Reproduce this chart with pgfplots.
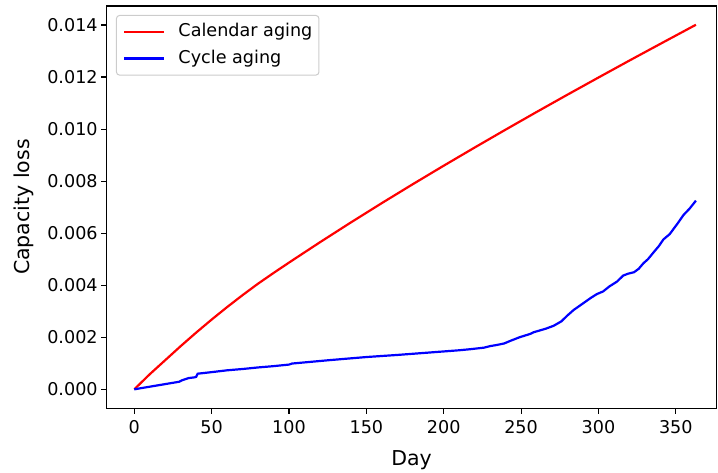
\documentclass[border=0pt]{standalone}
\usepackage{fontspec}
\setmainfont{DejaVu Sans}
\usepackage{pgfplots}
\pgfplotsset{compat=1.18}
\begin{document}
\begin{tikzpicture}
\begin{axis}[
  scale only axis,
  width=609.8pt, height=402.3pt,
  xmin=-17.84, xmax=376.3,
  ymin=-0.00073, ymax=0.01473,
  axis line style={line width=1.1pt},
  tick style={line width=1.1pt, black},
  tick align=outside,
  major tick length=5.5pt,
  xtick pos=bottom, ytick pos=left,
  xtick={0,50,100,150,200,250,300,350},
  ytick={0,0.002,0.004,0.006,0.008,0.010,0.012,0.014},
  scaled y ticks=false,
  yticklabel style={/pgf/number format/fixed, /pgf/number format/precision=3, /pgf/number format/fixed zerofill},
  xticklabel style={yshift=-3pt},
  /pgf/number format/assume math mode=true,
  ticklabel style={font=\fontsize{17.6}{20}\selectfont},
  label style={font=\fontsize{20.5}{24}\selectfont},
  xlabel={Day},
  xlabel style={yshift=-10pt},
  ylabel={Capacity loss},
  ylabel style={yshift=7pt},
  legend cell align=left,
  legend image code/.code={\draw[#1, line width=2.2pt] (0pt,0pt) -- (40pt,0pt); \path (53.3pt,0pt);},
  legend style={at={(0,1)}, anchor=north west, xshift=9.3pt, yshift=-9pt,
    draw=black!20, line width=1pt, rounded corners=3pt, fill=white, fill opacity=0.8, text opacity=1,
    font=\fontsize{17.6}{20}\selectfont, inner xsep=6.5pt, inner ysep=8pt, row sep=9.6pt,
    nodes={inner sep=0pt, text height=13pt, text depth=4pt}},
]
\addplot[red, line width=2.2pt] coordinates {
(0,0) (10,0.00058) (20,0.00112) (30,0.00166) (40,0.00218)
(50,0.00268) (60,0.00316) (70,0.00362) (80,0.00406) (90,0.00447)
(100,0.00487) (120,0.005651) (140,0.006413) (160,0.007156) (180,0.007882)
(200,0.008593) (220,0.009291) (240,0.009979) (260,0.010656) (280,0.011323)
(300,0.011981) (320,0.012633) (340,0.013275) (363,0.014009)
};
\addlegendentry{Calendar aging}
\addplot[blue, line width=2.2pt] coordinates {
(0,0) (10,0.00010) (20,0.00020) (29,0.00029) (31,0.00035) (35,0.00043)
(39,0.00046) (40,0.00048) (41,0.00060) (50,0.00066) (60,0.00073) (70,0.00078)
(80,0.00084) (90,0.00089) (100,0.00095) (102,0.00099) (126,0.00112)
(150,0.00124) (170,0.00132) (190,0.00141) (210,0.00150) (217,0.00154)
(226,0.00160) (230,0.00166) (234,0.00170) (239,0.00176) (243,0.00186)
(249,0.00200) (256,0.00213) (258,0.00219) (262,0.00226) (266,0.00233)
(271,0.00244) (276,0.00261) (280,0.00284) (284,0.00305) (290,0.00330)
(295,0.00351) (299,0.00366) (303,0.00376) (307,0.00395) (312,0.00414)
(316,0.00437) (319,0.00444) (323,0.00450) (326,0.00463) (329,0.00484)
(332,0.00500) (336,0.00529) (339,0.00550) (342,0.00576) (346,0.00596)
(349,0.00620) (351,0.00636) (355,0.00670) (359,0.00695) (363,0.00725)
};
\addlegendentry{Cycle aging}
\end{axis}
\pgfresetboundingbox
\path ([xshift=-106.7pt,yshift=-64.7pt]current axis.south west) rectangle ([xshift=1.5pt,yshift=6pt]current axis.north east);
\end{tikzpicture}
\end{document}
